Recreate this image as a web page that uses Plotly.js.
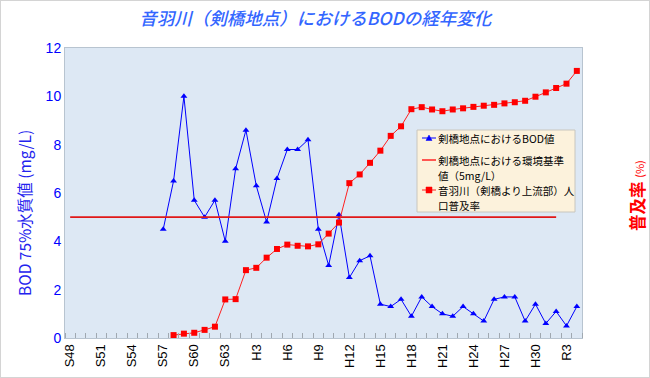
<!DOCTYPE html>
<html>
<head>
<meta charset="utf-8">
<script src="https://cdn.plot.ly/plotly-3.0.1.min.js"></script>
<style>
html,body{margin:0;padding:0;background:#fff;}
#wrap{position:relative;width:650px;height:378px;}
#chart{width:650px;height:378px;}
#frame{position:absolute;left:0;top:0;width:648px;height:376px;border:1px solid #d4d4d4;pointer-events:none;}
</style>
</head>
<body>
<div id="wrap"><div id="chart"></div><div id="frame"></div></div>
<script>
// Fiscal-year categories (昭和 S48 – 令和 R4)
const years = ["S48","S49","S50","S51","S52","S53","S54","S55","S56","S57","S58","S59","S60","S61","S62","S63",
  "H1","H2","H3","H4","H5","H6","H7","H8","H9","H10","H11","H12","H13","H14","H15","H16","H17","H18","H19","H20",
  "H21","H22","H23","H24","H25","H26","H27","H28","H29","H30","R1","R2","R3","R4"];

// BOD 75% value at 剣橋 (mg/L), S57 – R4
const bodYears = ["S57","S58","S59","S60","S61","S62","S63","H1","H2","H3","H4","H5","H6","H7","H8","H9","H10","H11",
  "H12","H13","H14","H15","H16","H17","H18","H19","H20","H21","H22","H23","H24","H25","H26","H27","H28","H29","H30",
  "R1","R2","R3","R4"];
const bodValues = [4.5,6.5,10.0,5.7,5.0,5.7,4.0,7.0,8.6,6.3,4.8,6.6,7.8,7.8,8.2,4.5,3.0,5.1,
  2.5,3.2,3.4,1.4,1.3,1.6,0.9,1.7,1.3,1.0,0.9,1.3,1.0,0.7,1.6,1.7,1.7,0.7,1.4,
  0.6,1.1,0.5,1.3];

// Environmental standard (5 mg/L), S48 – R2
const stdYears = years.slice(0, 48);
const stdValues = stdYears.map(() => 5);

// Sewerage coverage rate upstream of 剣橋 (%), S58 – R4
const rateYears = ["S58","S59","S60","S61","S62","S63","H1","H2","H3","H4","H5","H6","H7","H8","H9","H10","H11",
  "H12","H13","H14","H15","H16","H17","H18","H19","H20","H21","H22","H23","H24","H25","H26","H27","H28","H29","H30",
  "R1","R2","R3","R4"];
const rateValues = [1.0,1.5,1.8,2.8,3.9,13.3,13.4,23.4,24.2,27.7,30.7,32.2,31.8,31.6,32.3,36.0,39.8,
  53.4,56.4,60.4,64.6,69.7,73.0,78.9,79.6,78.8,78.2,78.8,79.2,79.7,80.1,80.4,80.9,81.3,81.8,83.2,
  84.7,86.2,87.7,92.1];

// Tick labels every 3 years
const tickLabels = years.filter((_, i) => i % 3 === 0);

// Series names (legend texts, one entry per line)
const seriesNames = [
  ["剣橋地点におけるBOD値"],
  ["剣橋地点における環境基準", "値（5mg/L）"],
  ["音羽川（剣橋より上流部）人", "口普及率"]
];

const idx = y => years.indexOf(y);

const traces = [
  {
    name: seriesNames[0].join(""),
    x: bodYears.map(idx), y: bodValues,
    type: "scatter", mode: "lines+markers",
    line: {color: "#0000ff", width: 1},
    marker: {symbol: "triangle-up", size: 6, color: "#0000ff"},
    yaxis: "y"
  },
  {
    name: seriesNames[1].join(""),
    x: stdYears.map(idx), y: stdValues,
    type: "scatter", mode: "lines",
    line: {color: "#e01818", width: 1.6},
    yaxis: "y"
  },
  {
    name: seriesNames[2].join(""),
    x: rateYears.map(idx), y: rateValues,
    type: "scatter", mode: "lines+markers",
    line: {color: "#ff2020", width: 1},
    marker: {symbol: "square", size: 6, color: "#ff0000"},
    yaxis: "y2"
  }
];

// ---- legend box drawn as decoration (pixel -> paper helpers) ----
const M = {l: 65, r: 68, t: 48, b: 40}, W = 650, H = 378;
const PW = W - M.l - M.r, PH = H - M.t - M.b;
const px = X => (X - M.l) / PW;
const py = Y => (H - M.b - Y) / PH;

const LG = {x0: 417, x1: 575, y0: 130, y1: 212, sx0: 422, sx1: 436, tx: 437};
const rows = [[138], [160, 175], [190, 205]];
const legColors = ["#0000ff", "#ff3030", "#ff2020"];

const shapes = [
  {type: "rect", xref: "paper", yref: "paper", x0: px(LG.x0), x1: px(LG.x1), y0: py(LG.y1), y1: py(LG.y0),
   fillcolor: "#fcf2dc", line: {color: "#c8c6be", width: 1}, layer: "above"}
];
rows.forEach((r, i) => {
  shapes.push({type: "line", xref: "paper", yref: "paper", x0: px(LG.sx0), x1: px(LG.sx1), y0: py(r[0]), y1: py(r[0]),
    line: {color: legColors[i], width: i === 1 ? 1.6 : 1}, layer: "above"});
});
const cx = (LG.sx0 + LG.sx1) / 2;
shapes.push({type: "path", xref: "paper", yref: "paper",
  path: `M ${px(cx - 3)},${py(rows[0][0] + 2.5)} L ${px(cx + 3)},${py(rows[0][0] + 2.5)} L ${px(cx)},${py(rows[0][0] - 3)} Z`,
  fillcolor: "#0000ff", line: {color: "#0000ff", width: 0.5}, layer: "above"});
shapes.push({type: "rect", xref: "paper", yref: "paper",
  x0: px(cx - 3), x1: px(cx + 3), y0: py(rows[2][0] + 3), y1: py(rows[2][0] - 3),
  fillcolor: "#ff0000", line: {color: "#ff0000", width: 0.5}, layer: "above"});

const annotations = [
  {
    text: "BOD 75%水質値 (mg/L)", textangle: -90,
    xref: "paper", yref: "paper", x: px(24), y: py(213),
    xanchor: "center", yanchor: "middle", showarrow: false,
    font: {family: "Noto Sans CJK JP, sans-serif", size: 15.5, color: "#2222ee"}
  },
  {
    text: "<b>普及率</b> <span style='font-size:11px'>(%)</span>", textangle: -90,
    xref: "paper", yref: "paper", x: px(637), y: py(196),
    xanchor: "center", yanchor: "middle", showarrow: false,
    font: {family: "Noto Sans CJK JP, sans-serif", size: 16.5, color: "#ff0000"}
  }
];
seriesNames.forEach((lines, i) => {
  lines.forEach((t, j) => {
    annotations.push({
      text: t, xref: "paper", yref: "paper", x: px(LG.tx), y: py(rows[i][j]),
      xanchor: "left", yanchor: "middle", showarrow: false,
      borderpad: 0,
      font: {family: "Noto Sans CJK JP, sans-serif", size: 10.5, color: "#000"}
    });
  });
});

const layout = {
  width: W, height: H,
  margin: M,
  paper_bgcolor: "#ffffff",
  plot_bgcolor: "#dde8f4",
  font: {family: "Liberation Sans, Noto Sans CJK JP, sans-serif", color: "#000"},
  title: {
    text: "<i>音羽川（剣橋地点）におけるBODの経年変化</i>",
    font: {family: "Noto Sans CJK JP, sans-serif", size: 17.5, color: "#3366ff", weight: 500},
    x: 0.485, xanchor: "center", y: 0.95, yanchor: "middle", yref: "container"
  },
  showlegend: false,
  xaxis: {
    range: [-0.5, years.length - 0.5],
    tickmode: "array",
    tickvals: tickLabels.map(idx),
    ticktext: tickLabels,
    tickangle: -90,
    ticks: "",
    tickfont: {size: 13, color: "#000", family: "Liberation Sans, sans-serif"},
    showgrid: false, zeroline: false,
    showline: true, linecolor: "#b8c4d0", linewidth: 1, mirror: true,
    minor: {tickmode: "linear", tick0: -0.5, dtick: 1, ticks: "inside", ticklen: 5, tickcolor: "#a0a8b0", showgrid: false}
  },
  yaxis: {
    range: [0, 12], dtick: 2,
    ticks: "",
    tickfont: {size: 14, color: "#0000ff", family: "Liberation Sans, sans-serif"},
    showgrid: false, zeroline: false,
    showline: true, linecolor: "#b8c4d0", linewidth: 1, mirror: true
  },
  yaxis2: {
    range: [0, 100], overlaying: "y", side: "right",
    showticklabels: false, ticks: "", showgrid: false, zeroline: false, showline: false
  },
  shapes: shapes,
  annotations: annotations
};

Plotly.newPlot("chart", traces, layout, {displayModeBar: false, staticPlot: true});
</script>
</body>
</html>
